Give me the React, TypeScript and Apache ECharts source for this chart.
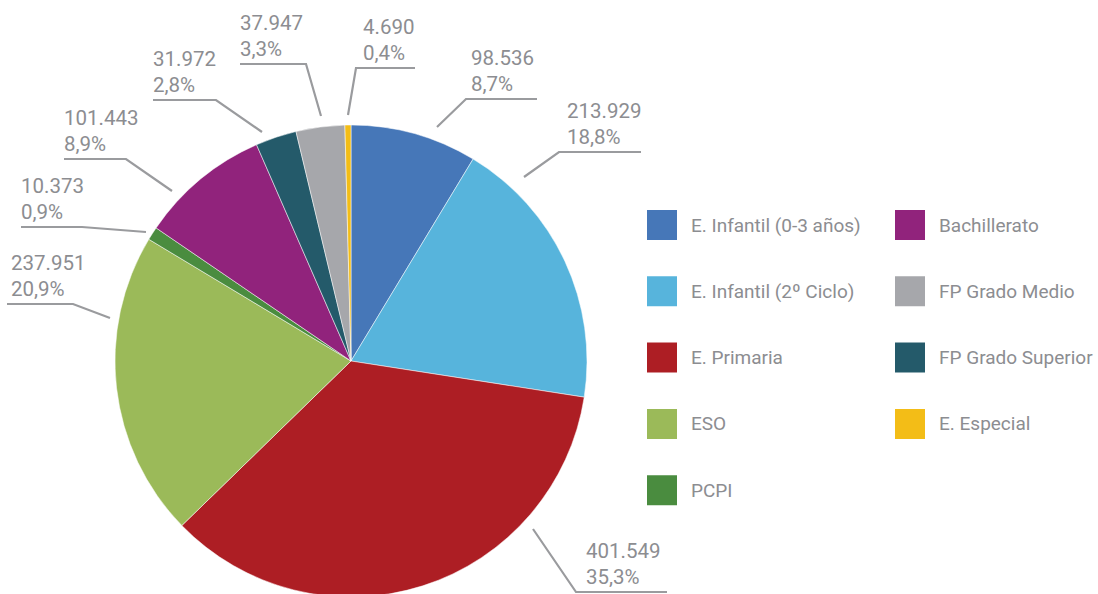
import React, { useEffect, useRef } from "react";
import * as echarts from "echarts";

const categories = [
  "E. Infantil (0-3 años)",
  "E. Infantil (2º Ciclo)",
  "E. Primaria",
  "ESO",
  "PCPI",
  "Bachillerato",
  "FP Grado Superior",
  "FP Grado Medio",
  "E. Especial",
];
const values = [98536, 213929, 401549, 237951, 10373, 101443, 31972, 37947, 4690];
const colors = [
  "#4677b8",
  "#57b4dc",
  "#ad1e24",
  "#9bba59",
  "#4a8c3f",
  "#91237c",
  "#245a6a",
  "#a6a7ab",
  "#f3bd17",
];
const legendLeft = ["E. Infantil (0-3 años)", "E. Infantil (2º Ciclo)", "E. Primaria", "ESO", "PCPI"];
const legendRight = ["Bachillerato", "FP Grado Medio", "FP Grado Superior", "E. Especial"];

// label guide geometry (label placement only)
const labelGuides = [
  { start: [437, 127], elbow: [466, 99], end: 537, textX: 471 },
  { start: [524, 177], elbow: [559, 152], end: 641, textX: 567 },
  { start: [533, 529], elbow: [576, 592], end: 667, textX: 586 },
  { start: [110, 318], elbow: [73, 304], end: 7, textX: 11 },
  { start: [146, 232], elbow: [82, 227], end: 21, textX: 21 },
  { start: [172, 191], elbow: [126, 159], end: 64, textX: 64 },
  { start: [262, 132], elbow: [216, 100], end: 153, textX: 153 },
  { start: [321, 116], elbow: [306, 64], end: 240, textX: 240 },
  { start: [348, 115], elbow: [356, 68], end: 415, textX: 363 },
];

const FONT = "Roboto, 'Liberation Sans', Arial, sans-serif";
const TEXT_COLOR = "#8c8d91";

function fmtThousands(v: number): string {
  return String(v).replace(/\B(?=(\d{3})+(?!\d))/g, ".");
}

export default function App() {
  const ref = useRef<HTMLDivElement>(null);
  useEffect(() => {
    document.body.style.margin = "0";
    if (!ref.current) return;
    const chart = echarts.init(ref.current, undefined, { renderer: "svg" });
    const total = values.reduce((a, b) => a + b, 0);
    const legendBase = {
      orient: "vertical",
      top: 208,
      padding: 0,
      itemWidth: 32,
      itemHeight: 32,
      itemGap: 32.3,
      icon: "rect",
      selectedMode: false,
      textStyle: {
        fontFamily: FONT,
        fontSize: 19,
        color: TEXT_COLOR,
        padding: [0, 0, 0, 8],
      },
    };
    chart.setOption({
      animation: false,
      color: colors,
      legend: [
        { ...legendBase, left: 645, data: legendLeft },
        { ...legendBase, left: 893, data: legendRight },
      ],
      series: [
        {
          type: "pie",
          center: [351, 361],
          radius: 236,
          startAngle: 90,
          clockwise: true,
          avoidLabelOverlap: false,
          itemStyle: { borderColor: "#ffffff", borderWidth: 0.5 },
          data: categories.map((name, i) => ({ name, value: values[i] })),
          label: {
            show: true,
            fontFamily: FONT,
            fontSize: 20.5,
            lineHeight: 26,
            color: TEXT_COLOR,
            formatter: (p: any) =>
              fmtThousands(p.value) + "\n" + ((p.value / total) * 100).toFixed(1).replace(".", ",") + "%",
          },
          labelLine: {
            show: true,
            lineStyle: { color: "#9a9b9e", width: 2.2 },
          },
          labelLayout: (params: any) => {
            const g = labelGuides[params.dataIndex];
            return {
              x: g.textX,
              y: g.elbow[1] - 2,
              align: "left",
              verticalAlign: "bottom",
              labelLinePoints: [g.start, g.elbow, [g.end, g.elbow[1]]],
            };
          },
        },
      ],
    });
    return () => chart.dispose();
  }, []);
  return <div ref={ref} style={{ width: 1098, height: 594 }} />;
}
